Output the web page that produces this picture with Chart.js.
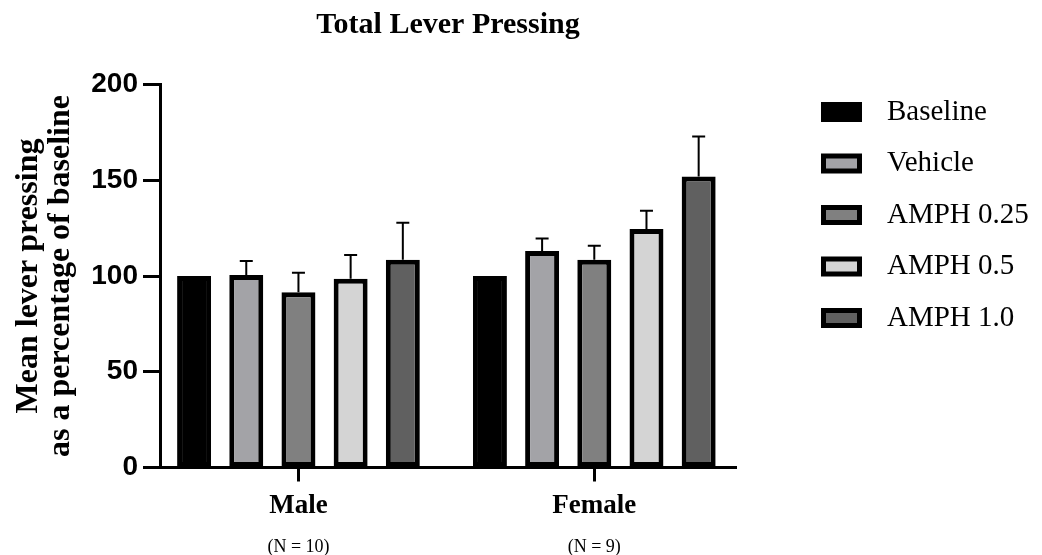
<!DOCTYPE html>
<html>
<head>
<meta charset="utf-8">
<title>Total Lever Pressing</title>
<script src="https://cdn.jsdelivr.net/npm/chart.js@4/dist/chart.umd.min.js"></script>
<style>
  body { margin: 0; background: #fff; }
  canvas { display: block; }
</style>
</head>
<body>
<canvas id="leverChart" width="1042" height="555"></canvas>
<script>
// 組別與處理
const groups = ['Male', 'Female']
const groupN = ['(N = 10)', '(N = 9)']
const treatments = ['Baseline', 'Vehicle', 'AMPH 0.25', 'AMPH 0.5', 'AMPH 1.0']

// 平均值 (% of baseline) 與 SEM
const maleMeans = [100, 100.5, 91.5, 98.5, 108.5]
const maleSem = [0, 7.3, 10.2, 12.5, 19.3]
const femaleMeans = [100, 113, 108.5, 124.5, 152]
const femaleSem = [0, 6.6, 7.3, 9.6, 20.8]

const yTicks = [0, 50, 100, 150, 200]

const fillColors = ['#000000', '#a3a3a7', '#808080', '#d4d4d4', '#606060']

const serif = "'Liberation Serif', 'Times New Roman', serif"
const sans = "'Liberation Sans', Arial, sans-serif"

// x 軸範圍 (讓兩組的位置接近原圖)
const xMin = -0.468
const xMax = 1.479

const datasets = treatments.map((name, i) => ({
  label: name,
  data: [
    { x: 0, y: maleMeans[i] },
    { x: 1, y: femaleMeans[i] }
  ],
  errors: [maleSem[i], femaleSem[i]],
  backgroundColor: fillColors[i],
  borderColor: '#000',
  borderWidth: 5,
  borderSkipped: false,
  categoryPercentage: 0.882,
  barPercentage: 0.651
}))

// 誤差線 (只畫上方)
const errorBars = {
  id: 'errorBars',
  afterDatasetsDraw (chart) {
    const { ctx } = chart
    const yScale = chart.scales.y
    chart.data.datasets.forEach((ds, i) => {
      const meta = chart.getDatasetMeta(i)
      meta.data.forEach((bar, j) => {
        const err = ds.errors[j]
        if (!err) return
        const top = yScale.getPixelForValue(ds.data[j].y + err)
        ctx.save()
        ctx.strokeStyle = '#000'
        ctx.lineWidth = 2
        ctx.beginPath()
        ctx.moveTo(bar.x, bar.y)
        ctx.lineTo(bar.x, top)
        ctx.moveTo(bar.x - 6.5, top)
        ctx.lineTo(bar.x + 6.5, top)
        ctx.stroke()
        ctx.restore()
      })
    })
  }
}

// 右側圖例
const sideLegend = {
  id: 'sideLegend',
  afterDraw (chart) {
    const { ctx, chartArea } = chart
    const boxX = chartArea.right + 85
    ctx.save()
    ctx.font = '29px ' + serif
    ctx.textBaseline = 'middle'
    ctx.textAlign = 'left'
    chart.data.datasets.forEach((ds, i) => {
      const cy = chartArea.top + 27.5 + i * 51.5
      ctx.fillStyle = '#000'
      ctx.fillRect(boxX, cy - 10, 41, 20)
      ctx.fillStyle = ds.backgroundColor
      ctx.fillRect(boxX + 5, cy - 5, 31, 10)
      ctx.fillStyle = '#000'
      ctx.fillText(ds.label, boxX + 66, cy)
    })
    ctx.restore()
  }
}

const groupTicks = (scale) => {
  scale.ticks = groups.map((g, i) => ({ value: i }))
}

new Chart(document.getElementById('leverChart'), {
  type: 'bar',
  data: { datasets },
  plugins: [errorBars, sideLegend],
  options: {
    responsive: false,
    animation: false,
    layout: { padding: { left: 0, right: 306, top: 0, bottom: 0 } },
    plugins: {
      legend: { display: false },
      tooltip: { enabled: false },
      title: {
        display: true,
        text: 'Total Lever Pressing',
        fullSize: false,
        color: '#000',
        font: { family: serif, size: 30, weight: 'bold' },
        padding: { top: 7, bottom: 41.5 }
      }
    },
    scales: {
      x: {
        type: 'linear',
        position: 'bottom',
        min: xMin,
        max: xMax,
        offset: false,
        weight: 0,
        afterBuildTicks: groupTicks,
        afterFit (scale) { scale.height = 60 },
        ticks: {
          callback: (v) => groups[v],
          color: '#000',
          padding: 8,
          maxRotation: 0,
          font: { family: serif, size: 27, weight: 'bold' }
        },
        grid: {
          offset: false,
          drawOnChartArea: false,
          drawTicks: true,
          tickLength: 14,
          tickWidth: 3,
          tickColor: '#000'
        },
        border: { display: true, color: '#000', width: 3 }
      },
      x2: {
        type: 'linear',
        position: 'bottom',
        min: xMin,
        max: xMax,
        offset: false,
        weight: 1,
        afterBuildTicks: groupTicks,
        afterFit (scale) { scale.height = 27.5 },
        ticks: {
          callback: (v) => groupN[v],
          color: '#000',
          padding: 8.7,
          maxRotation: 0,
          font: { family: serif, size: 18 }
        },
        grid: { display: false, drawTicks: false, offset: false },
        border: { display: false }
      },
      y: {
        min: 0,
        max: 200,
        afterBuildTicks (scale) {
          scale.ticks = yTicks.map((v) => ({ value: v }))
        },
        afterFit (scale) { scale.width = 160 },
        ticks: {
          color: '#000',
          padding: 5,
          font: { family: sans, size: 28, weight: 'bold' }
        },
        grid: {
          drawOnChartArea: false,
          drawTicks: true,
          tickLength: 17,
          tickWidth: 3,
          tickColor: '#000'
        },
        border: { display: true, color: '#000', width: 3 },
        title: {
          display: true,
          text: ['Mean lever pressing', 'as a percentage of baseline'],
          color: '#000',
          font: { family: serif, size: 32, weight: 'bold', lineHeight: 1.02 },
          padding: { top: 12, bottom: 0 }
        }
      }
    }
  }
})
</script>
</body>
</html>
